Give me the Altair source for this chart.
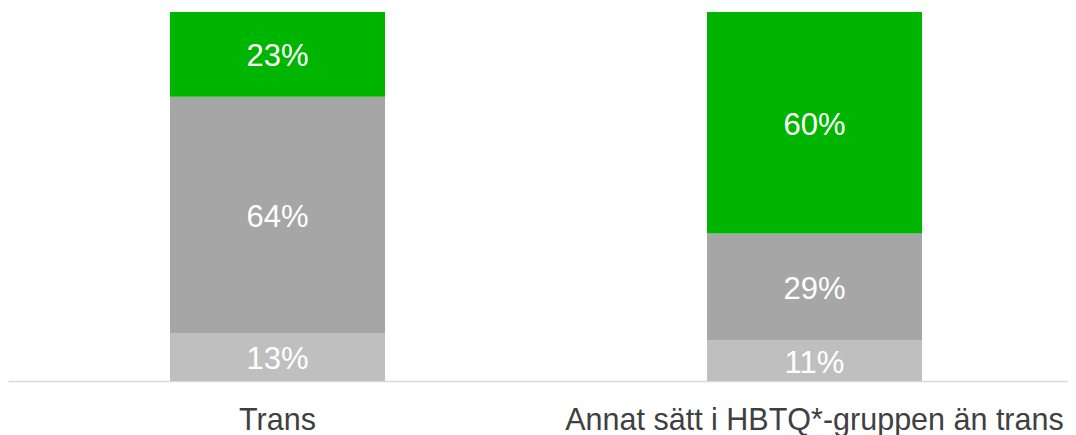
import altair as alt
import pandas as pd

categories = ["Trans", "Annat sätt i HBTQ*-gruppen än trans"]
series = ["Serie 1", "Serie 2", "Serie 3"]
serie1 = [13, 11]
serie2 = [64, 29]
serie3 = [23, 60]
colors = ["#BFBFBF", "#A6A6A6", "#00B500"]

rows = []
for i, cat in enumerate(categories):
    for k, (name, vals) in enumerate(zip(series, [serie1, serie2, serie3])):
        rows.append({"category": cat, "series": name, "order": k, "value": vals[i]})
df = pd.DataFrame(rows)

x_enc = alt.X(
    "category:N",
    sort=categories,
    scale=alt.Scale(paddingInner=0.5996, paddingOuter=0.2868, align=0.526),
    axis=alt.Axis(
        title=None, labelAngle=0, ticks=False, grid=False,
        domainColor="#D9D9D9", domainWidth=1.5,
        labelFontSize=30.5, labelFont="Liberation Sans", labelColor="#404040",
        labelPadding=24, labelLimit=0,
    ),
)

base = alt.Chart(df).transform_stack(
    stack="value", groupby=["category"], as_=["y0", "y1"],
    sort=[alt.SortField("order")],
).transform_calculate(
    ymid="(datum.y0 + datum.y1) / 2",
    label="datum.value + '%'",
)

bars = base.mark_bar(stroke=None).encode(
    x=x_enc,
    y=alt.Y("y0:Q", scale=alt.Scale(domain=[0, 100], nice=False), axis=None),
    y2="y1:Q",
    color=alt.Color("series:N", scale=alt.Scale(domain=series, range=colors), legend=None),
)

text = base.mark_text(color="white", fontSize=31, font="Liberation Sans", dy=3).encode(
    x=alt.X("category:N", sort=categories),
    y=alt.Y("ymid:Q"),
    text="label:N",
)

chart = alt.layer(bars, text).properties(
    width=1060, height=369,
    padding={"left": 0, "top": 4, "right": 0, "bottom": 58},
    autosize=alt.AutoSizeParams(type="none"),
).configure_view(strokeWidth=0)

chart.save("out.html", embed_options={"renderer": "svg", "actions": False})
